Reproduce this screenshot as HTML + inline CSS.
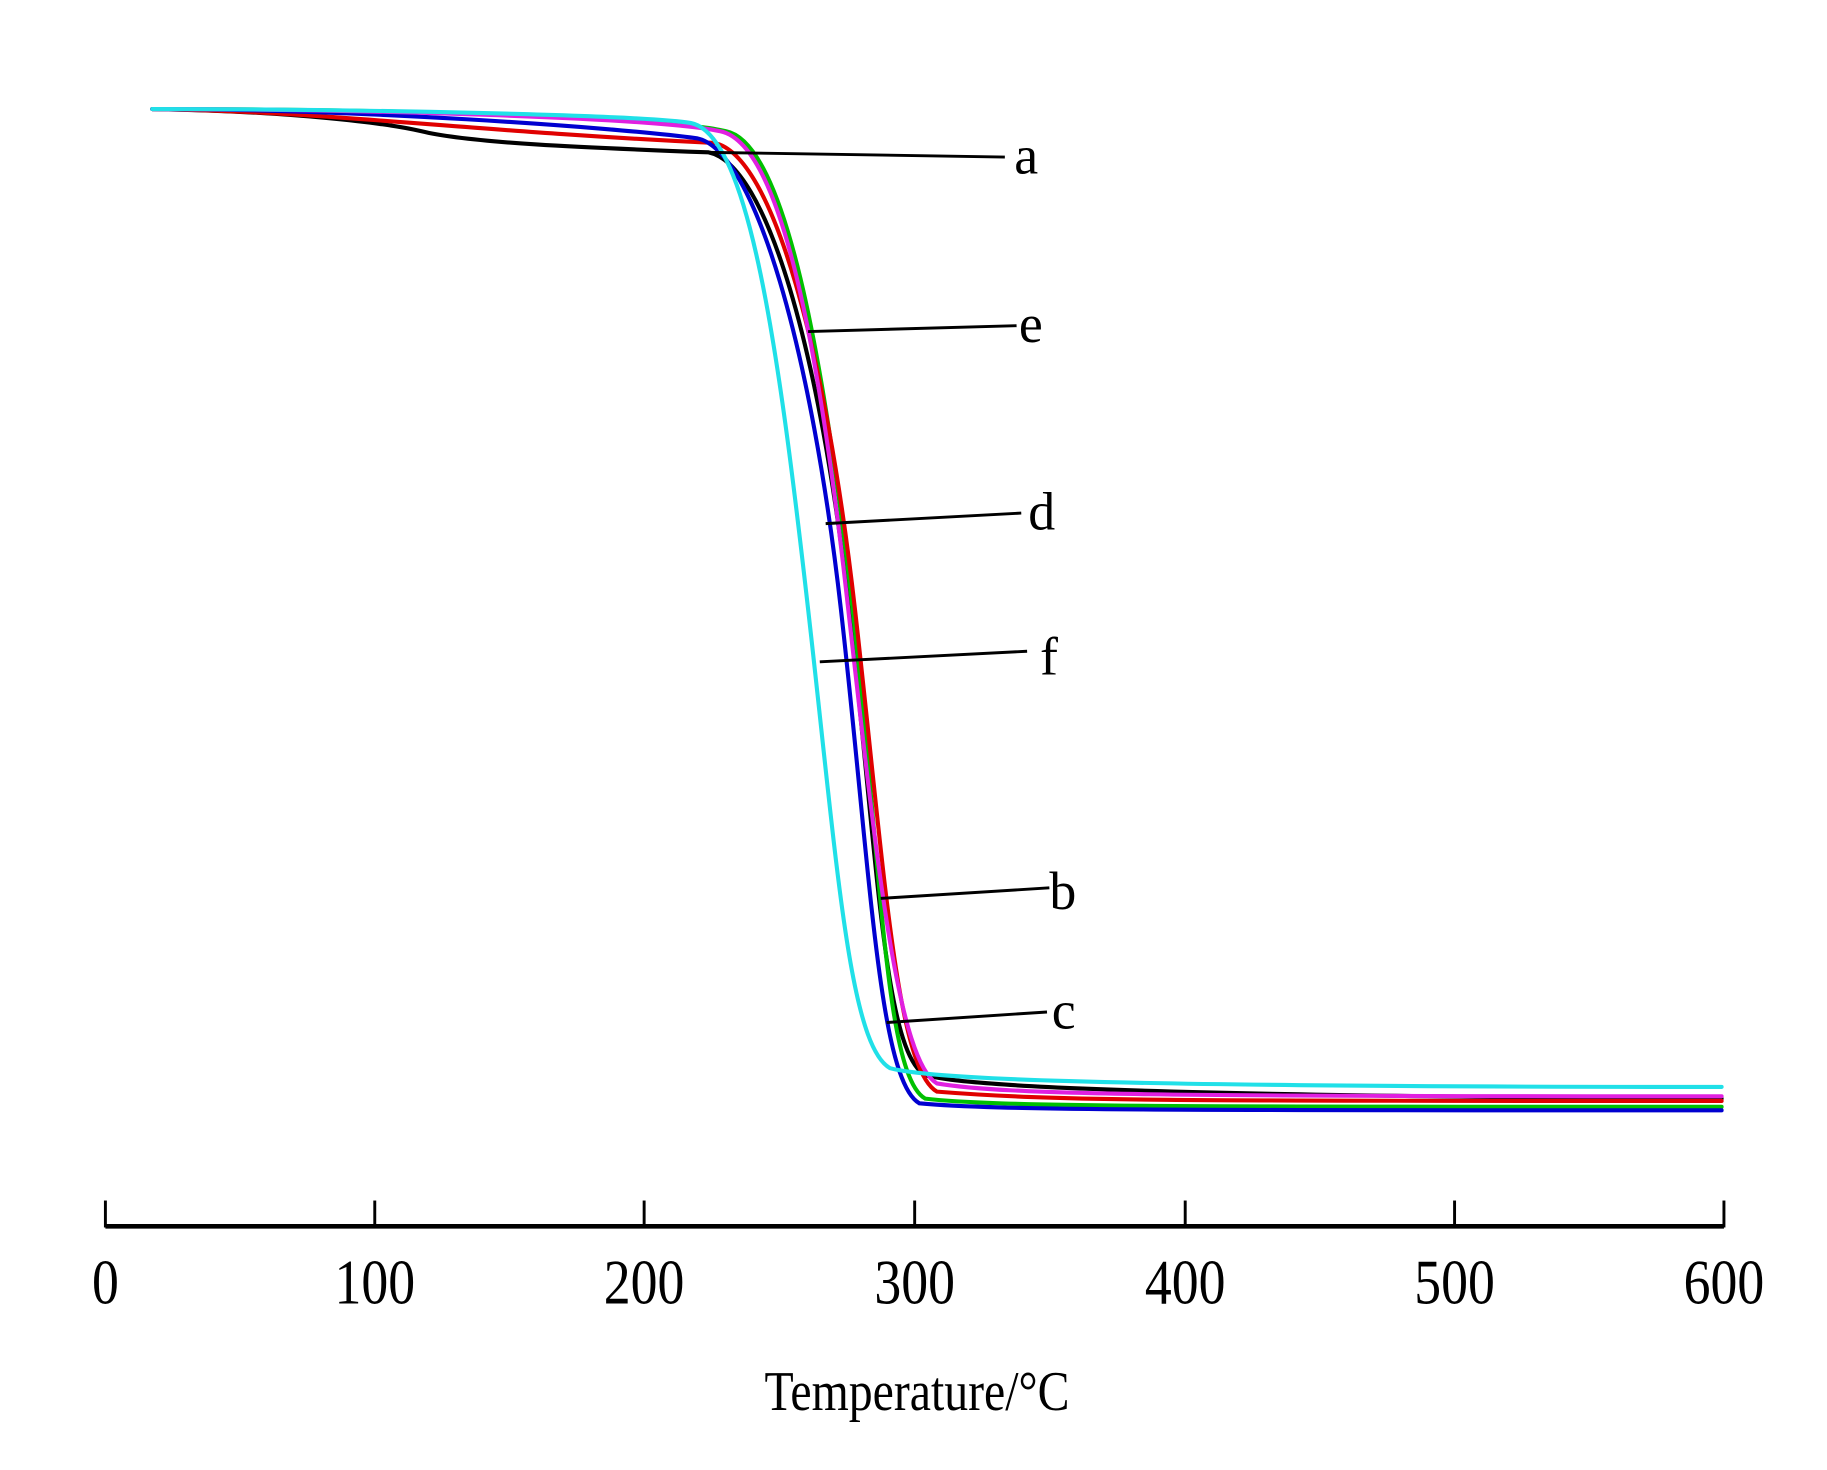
<!DOCTYPE html>
<html><head><style>html,body{margin:0;padding:0;background:#fff}svg{display:block}</style></head>
<body>
<svg width="1827" height="1470" viewBox="0 0 1560 1255" xmlns="http://www.w3.org/2000/svg">
<rect width="1560" height="1255" fill="#fff"/>
<g fill="none" stroke-width="3.5" stroke-linecap="round">
<path stroke="#000" d="M130,93 C250,95 330,105 360,112 C400,122 500,126 605,130 C655,140 700,300 725,520 C750,740 755,898 790,918 C820,925 900,935 1470,938"/>
<path stroke="#00c000" d="M130,93 C300,93 560,98 620,112 C670,122 703,300 728,520 C753,740 755,918 790,938 C850,945 1000,945 1470,945"/>
<path stroke="#e00000" d="M130,93 C280,95 400,112 610,122 C660,132 705,300 730,520 C755,740 765,912 800,932 C900,940 1000,940 1470,940"/>
<path stroke="#0000d0" d="M130,93 C300,93 520,108 595,118 C645,128 693,300 718,520 C743,740 750,922 785,942 C850,948 1000,948 1470,948"/>
<path stroke="#e020e0" d="M130,93 C300,93 560,100 615,112 C665,122 697,280 722,500 C747,720 765,905 800,925 C860,935 1000,936 1470,936"/>
<path stroke="#20e0e8" d="M130,93 C300,93 550,98 590,105 C640,115 665,300 690,520 C715,740 725,892 760,912 C790,920 900,928 1470,928"/>
</g>
<g stroke="#000" stroke-width="2.5">
<line x1="605" y1="130" x2="858" y2="134"/>
<line x1="690" y1="283" x2="868" y2="278"/>
<line x1="705" y1="447" x2="872" y2="438"/>
<line x1="700" y1="565" x2="877" y2="556"/>
<line x1="752" y1="767" x2="896" y2="758"/>
<line x1="757" y1="873" x2="894" y2="864"/>
</g>
<g font-family="Liberation Serif, serif" font-size="46" fill="#000">
<text x="866" y="148">a</text>
<text x="870" y="292">e</text>
<text x="878" y="452">d</text>
<text x="888" y="576">f</text>
<text x="896" y="776">b</text>
<text x="898" y="878">c</text>
</g>
<g stroke="#000">
<line x1="90" y1="1047" x2="1472" y2="1047" stroke-width="4"/>
<g stroke-width="2.5">
<line x1="90" y1="1025" x2="90" y2="1048"/>
<line x1="320" y1="1025" x2="320" y2="1048"/>
<line x1="550" y1="1025" x2="550" y2="1048"/>
<line x1="781" y1="1025" x2="781" y2="1048"/>
<line x1="1012" y1="1025" x2="1012" y2="1048"/>
<line x1="1242" y1="1025" x2="1242" y2="1048"/>
<line x1="1472" y1="1025" x2="1472" y2="1048"/>
</g></g>
<g font-family="Liberation Serif, serif" font-size="54" fill="#000" text-anchor="middle">
<text x="90" y="1113" transform="translate(90 0) scale(0.85 1) translate(-90 0)">0</text>
<text x="320" y="1113" transform="translate(320 0) scale(0.85 1) translate(-320 0)">100</text>
<text x="550" y="1113" transform="translate(550 0) scale(0.85 1) translate(-550 0)">200</text>
<text x="781" y="1113" transform="translate(781 0) scale(0.85 1) translate(-781 0)">300</text>
<text x="1012" y="1113" transform="translate(1012 0) scale(0.85 1) translate(-1012 0)">400</text>
<text x="1242" y="1113" transform="translate(1242 0) scale(0.85 1) translate(-1242 0)">500</text>
<text x="1472" y="1113" transform="translate(1472 0) scale(0.85 1) translate(-1472 0)">600</text>
<text x="783" y="1204" font-size="48" transform="translate(783 0) scale(0.85 1) translate(-783 0)">Temperature/°C</text>
</g>
</svg>
</body></html>
